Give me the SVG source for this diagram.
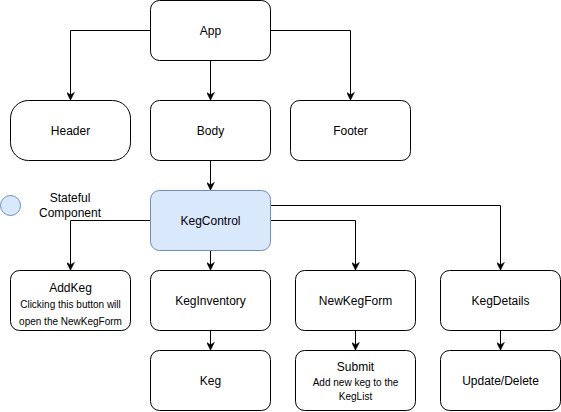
<svg xmlns="http://www.w3.org/2000/svg" width="561" height="412" viewBox="0 0 561 412">
<style>
.n{fill:#ffffff;stroke:#000000;stroke-width:1}
.s{fill:#dae8fc;stroke:#6c8ebf;stroke-width:1}
.t{font-family:"Liberation Sans",Arial,Helvetica,sans-serif;font-size:12px;fill:#000000;text-anchor:middle}
.st{font-family:"Liberation Sans",Arial,Helvetica,sans-serif;font-size:10px;fill:#000000;text-anchor:middle}
.c{fill:none;stroke:#000000;stroke-width:1}
</style>
<defs>
<marker id="arr" viewBox="0 0 10 10" refX="9" refY="5" markerWidth="8" markerHeight="8" markerUnits="userSpaceOnUse" orient="auto">
<path d="M0,0 L10,5 L0,10 L3,5 z" fill="#000000" stroke="#000000" stroke-width="0.5"/>
</marker>
</defs>
<rect width="561" height="412" fill="#ffffff"/>
<g id="connectors">
<path class="c" d="M150.5,30.5 H70.5 V99.5" marker-end="url(#arr)"/>
<path class="c" d="M210.5,60.5 V99.5" marker-end="url(#arr)"/>
<path class="c" d="M270.5,30.5 H350.5 V99.5" marker-end="url(#arr)"/>
<path class="c" d="M210.5,160.5 V189.5" marker-end="url(#arr)"/>
<path class="c" d="M150.5,220.5 H70.5 V269.5" marker-end="url(#arr)"/>
<path class="c" d="M210.5,250.5 V269.5" marker-end="url(#arr)"/>
<path class="c" d="M270.5,220.5 H355.5 V269.5" marker-end="url(#arr)"/>
<path class="c" d="M270.5,205.5 H500.5 V269.5" marker-end="url(#arr)"/>
<path class="c" d="M210.5,330.5 V349.5" marker-end="url(#arr)"/>
<path class="c" d="M355.5,330.5 V349.5" marker-end="url(#arr)"/>
<path class="c" d="M500.5,330.5 V349.5" marker-end="url(#arr)"/>
</g>
<g id="legend">
<circle cx="10.5" cy="205.5" r="10" class="s"/>
<text class="t" x="70" y="202">Stateful</text>
<text class="t" x="70" y="217">Component</text>
</g>
<g id="app"><rect class="n" x="150.5" y="0.5" width="120" height="60" rx="9"/><text class="t" x="210.5" y="35">App</text></g>
<g id="header"><rect class="n" x="10.5" y="100.5" width="120" height="60" rx="18"/><text class="t" x="70.5" y="135">Header</text></g>
<g id="body"><rect class="n" x="150.5" y="100.5" width="120" height="60" rx="9"/><text class="t" x="210.5" y="135">Body</text></g>
<g id="footer"><rect class="n" x="290.5" y="100.5" width="120" height="60" rx="9"/><text class="t" x="350.5" y="135">Footer</text></g>
<g id="kegcontrol"><rect class="s" x="150.5" y="190.5" width="120" height="60" rx="9"/><text class="t" x="210.5" y="225">KegControl</text></g>
<g id="addkeg"><rect class="n" x="10.5" y="270.5" width="120" height="60" rx="9"/><text class="t" x="70.5" y="292">AddKeg</text><text class="st" x="70.5" y="308">Clicking this button will</text><text class="st" x="70.5" y="325">open the NewKegForm</text></g>
<g id="keginventory"><rect class="n" x="150.5" y="270.5" width="120" height="60" rx="9"/><text class="t" x="210.5" y="305">KegInventory</text></g>
<g id="newkegform"><rect class="n" x="295.5" y="270.5" width="120" height="60" rx="9"/><text class="t" x="355.5" y="305">NewKegForm</text></g>
<g id="kegdetails"><rect class="n" x="440.5" y="270.5" width="120" height="60" rx="9"/><text class="t" x="500.5" y="305">KegDetails</text></g>
<g id="keg"><rect class="n" x="150.5" y="350.5" width="120" height="60" rx="9"/><text class="t" x="210.5" y="385">Keg</text></g>
<g id="submit"><rect class="n" x="295.5" y="350.5" width="120" height="60" rx="9"/><text class="t" x="355.5" y="371">Submit</text><text class="st" x="355.5" y="386">Add new keg to the</text><text class="st" x="355.5" y="400">KegList</text></g>
<g id="updatedelete"><rect class="n" x="440.5" y="350.5" width="120" height="60" rx="9"/><text class="t" x="500.5" y="385">Update/Delete</text></g>
</svg>
